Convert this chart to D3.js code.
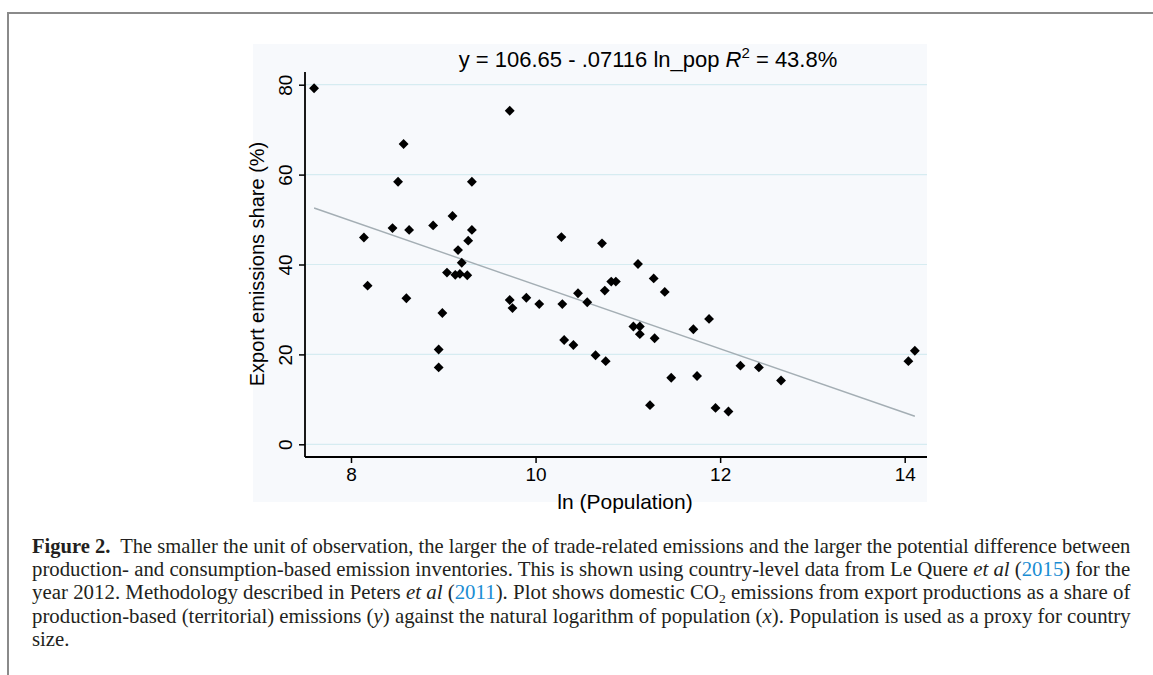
<!DOCTYPE html>
<html>
<head>
<meta charset="utf-8">
<script src="https://cdn.jsdelivr.net/npm/d3@7"></script>
<style>
 body { margin: 0; background: #fff; }
 svg { display: block; }
</style>
</head>
<body>
<svg width="1153" height="675"></svg>
<script>
// Data: ln(population) vs export emissions share (%)
var lnPop = [7.60, 9.72, 8.57, 8.51, 9.31, 9.10, 8.45, 8.63, 8.89, 9.31,
 9.27, 8.14, 9.16, 9.20, 9.04, 9.13, 9.18, 9.26, 8.18, 8.60,
 8.99, 8.95, 8.95, 9.72, 9.75, 10.28, 10.72, 11.11, 9.90, 10.04,
 10.29, 10.46, 10.56, 10.31, 10.41, 10.65, 10.76, 10.75, 10.82, 10.87,
 11.28, 11.40, 11.06, 11.13, 11.13, 11.29, 11.71, 11.88, 11.47, 11.75,
 11.24, 11.95, 12.09, 12.22, 12.42, 12.66, 14.04, 14.11];
var exportShare = [79.2, 74.2, 66.8, 58.4, 58.4, 50.8, 48.1, 47.7, 48.7, 47.7,
 45.3, 46.0, 43.2, 40.4, 38.2, 37.7, 37.9, 37.6, 35.3, 32.5,
 29.2, 21.1, 17.1, 32.1, 30.3, 46.1, 44.7, 40.1, 32.6, 31.2,
 31.2, 33.6, 31.6, 23.2, 22.1, 19.8, 18.5, 34.2, 36.2, 36.2,
 36.9, 33.9, 26.2, 26.2, 24.5, 23.6, 25.6, 27.9, 14.8, 15.2,
 8.7, 8.1, 7.3, 17.5, 17.1, 14.2, 18.5, 20.8];
var xTicks = [8, 10, 12, 14];
var yTicks = [0, 20, 40, 60, 80];
// fitted line y = a + b * ln_pop
var fitIntercept = 106.65, fitSlope = -7.116;
var fitRange = [7.60, 14.11];

var captionLines = [
 [{t: "Figure 2.", b: 1}, {t: "\u00a0 The smaller the unit of observation, the larger the of trade-related emissions and the larger the potential difference between"}],
 [{t: "production- and consumption-based emission inventories. This is shown using country-level data from Le Quere "}, {t: "et al", i: 1}, {t: " ("}, {t: "2015", l: 1}, {t: ") for the"}],
 [{t: "year 2012. Methodology described in Peters "}, {t: "et al", i: 1}, {t: " ("}, {t: "2011", l: 1}, {t: "). Plot shows domestic CO"}, {t: "2", s: 1}, {t: " emissions from export productions as a share of"}],
 [{t: "production-based (territorial) emissions ("}, {t: "y", i: 1}, {t: ") against the natural logarithm of population ("}, {t: "x", i: 1}, {t: "). Population is used as a proxy for country"}],
 [{t: "size."}]
];

var svg = d3.select("svg");
var sans = "'Liberation Sans', Arial, sans-serif";

// outer figure frame
svg.append("rect")
 .attr("x", 8).attr("y", 13)
 .attr("width", 1200).attr("height", 700)
 .attr("fill", "#fff")
 .attr("stroke", "#8a8a8a")
 .attr("stroke-width", 2);

// graph region
svg.append("rect")
 .attr("x", 253).attr("y", 44)
 .attr("width", 674).attr("height", 458)
 .attr("fill", "#f7f9fc");

var plot = {left: 305, right: 927, top: 72, bottom: 457};

var x = d3.scaleLinear().domain([8, 14]).range([351, 904.7]);
var y = d3.scaleLinear().domain([0, 80]).range([444.3, 84.7]);

// gridlines
svg.append("g")
 .selectAll("line")
 .data(yTicks)
 .enter()
 .append("line")
 .attr("x1", plot.left).attr("x2", plot.right)
 .attr("y1", function(d) { return y(d); })
 .attr("y2", function(d) { return y(d); })
 .attr("stroke", "#d6ecf1")
 .attr("stroke-width", 1.2);

// fitted line
svg.append("line")
 .attr("x1", x(fitRange[0])).attr("y1", y(fitIntercept + fitSlope * fitRange[0]))
 .attr("x2", x(fitRange[1])).attr("y2", y(fitIntercept + fitSlope * fitRange[1]))
 .attr("stroke", "#a4aeb4")
 .attr("stroke-width", 1.4);

// points
var diamond = d3.symbol().type(d3.symbolDiamond2 || d3.symbolSquare).size(62);
svg.append("g")
 .selectAll("path")
 .data(lnPop)
 .enter()
 .append("path")
 .attr("d", diamond)
 .attr("transform", function(d, i) {
  return "translate(" + x(d) + "," + y(exportShare[i]) + ")" + (d3.symbolDiamond2 ? "" : " rotate(45)");
 })
 .attr("fill", "#000");

// x axis
var gx = svg.append("g")
 .attr("transform", "translate(0," + plot.bottom + ")")
 .call(d3.axisBottom(x).tickValues(xTicks).tickSize(6).tickPadding(5).tickFormat(d3.format("d")));
gx.select(".domain").remove();
gx.selectAll("text").attr("font-family", sans).attr("font-size", "19px").attr("fill", "#000");
gx.selectAll(".tick line").attr("stroke", "#000").attr("stroke-width", 1.5);

// y axis
var gy = svg.append("g")
 .attr("transform", "translate(" + plot.left + ",0)")
 .call(d3.axisLeft(y).tickValues(yTicks).tickSize(6));
gy.select(".domain").remove();
gy.selectAll(".tick line").attr("stroke", "#000").attr("stroke-width", 1.5);
gy.selectAll("text")
 .attr("transform", "rotate(-90)")
 .attr("x", 0).attr("y", -13).attr("dy", 0)
 .attr("text-anchor", "middle")
 .attr("font-family", sans).attr("font-size", "19px").attr("fill", "#000");

// axis lines
svg.append("line")
 .attr("x1", plot.left).attr("x2", plot.right)
 .attr("y1", plot.bottom).attr("y2", plot.bottom)
 .attr("stroke", "#000").attr("stroke-width", 1.8);
svg.append("line")
 .attr("x1", plot.left).attr("x2", plot.left)
 .attr("y1", plot.top).attr("y2", plot.bottom)
 .attr("stroke", "#000").attr("stroke-width", 1.8);

// axis titles
svg.append("text")
 .attr("x", 625).attr("y", 509)
 .attr("text-anchor", "middle")
 .attr("font-family", sans).attr("font-size", "21px")
 .text("ln (Population)");
svg.append("text")
 .attr("transform", "translate(264,264) rotate(-90)")
 .attr("text-anchor", "middle")
 .attr("font-family", sans).attr("font-size", "20px")
 .text("Export emissions share (%)");

// title
var title = svg.append("text")
 .attr("x", 648).attr("y", 67)
 .attr("text-anchor", "middle")
 .attr("font-family", sans).attr("font-size", "22px");
title.append("tspan").text("y = 106.65 - .07116 ln_pop ");
title.append("tspan").attr("font-style", "italic").text("R");
title.append("tspan").attr("font-size", "15px").attr("dy", -9).text("2");
title.append("tspan").attr("dy", 9).text(" = 43.8%");

// caption, each line stretched to the justified width
var capLeft = 32, capRight = 1131, capTop = 553, capStep = 23.2;
var kSum = 0;
captionLines.forEach(function(parts, li) {
 var t = svg.append("text")
  .attr("font-family", "'Liberation Serif', 'Times New Roman', serif")
  .attr("font-size", "20px")
  .attr("fill", "#231f20");
 parts.forEach(function(p, pi) {
  var s = t.append("tspan").text(p.t);
  if (p.b) s.attr("font-weight", "bold");
  if (p.i) s.attr("font-style", "italic");
  if (p.l) s.attr("fill", "#1b8dd3");
  if (p.s) s.attr("font-size", "13px").attr("dy", 4);
  else if (pi > 0 && parts[pi - 1].s) s.attr("dy", -4);
 });
 var w = t.node().getComputedTextLength();
 var k = li < captionLines.length - 1 ? (capRight - capLeft) / w : kSum / li;
 kSum += k;
 t.attr("transform", "translate(" + capLeft + "," + (capTop + li * capStep) + ") scale(" + k + ",1)");
});
</script>
</body>
</html>
